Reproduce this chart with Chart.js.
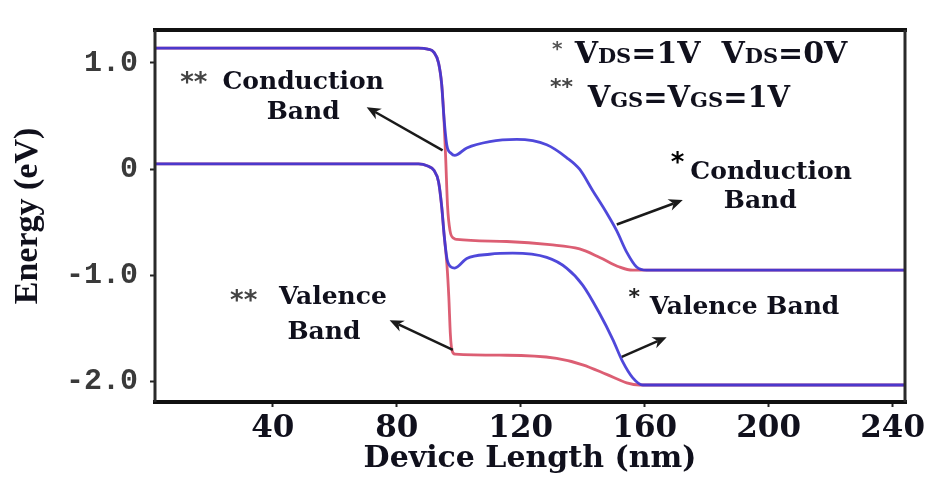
<!DOCTYPE html>
<html>
<head>
<meta charset="utf-8">
<script src="https://cdn.jsdelivr.net/npm/chart.js@4.4.1/dist/chart.umd.min.js"></script>
<style>
  html, body { margin: 0; padding: 0; background: #ffffff; }
</style>
</head>
<body>
<canvas id="bands" width="938" height="478"></canvas>
<script>
// Band edge profiles (x: nm, y: eV)
const cbBlueX = [2, 87, 90, 92, 93.5, 94.5, 95.2, 96.2, 97.5, 98.7, 102.6, 110, 118.7, 128.4, 134.8, 139, 143.2, 147.7, 151, 154.2, 157.4, 160.6, 244];
const cbBlueY = [1.14, 1.14, 1.13, 1.10, 1.00, 0.80, 0.50, 0.22, 0.15, 0.13, 0.20, 0.26, 0.28, 0.23, 0.11, 0.00, -0.20, -0.41, -0.58, -0.78, -0.92, -0.95, -0.95];

const cbRedX = [2, 87, 90, 92, 93.5, 94.5, 95.2, 95.8, 96.4, 97.2, 98.4, 99.4, 115.5, 129.4, 139, 145.5, 151.9, 156.1, 160, 244];
const cbRedY = [1.14, 1.14, 1.13, 1.10, 1.00, 0.80, 0.50, 0.10, -0.35, -0.58, -0.65, -0.66, -0.68, -0.71, -0.75, -0.83, -0.92, -0.95, -0.95, -0.95];

const vbBlueX = [2, 87, 90, 92, 93.5, 94.5, 95.3, 96.2, 97.5, 98.7, 102.6, 110, 117.4, 128.4, 134.8, 140, 145.5, 149.7, 152.9, 156.1, 159.4, 244];
const vbBlueY = [0.05, 0.05, 0.03, -0.01, -0.12, -0.35, -0.62, -0.84, -0.92, -0.93, -0.84, -0.80, -0.79, -0.83, -0.93, -1.09, -1.36, -1.60, -1.81, -1.96, -2.03, -2.03];

const vbRedX = [2, 87, 90, 92, 93.5, 94.5, 95.3, 96.2, 96.8, 97.3, 97.8, 98.8, 115.5, 131.6, 140, 147.7, 154.2, 158.4, 244];
const vbRedY = [0.05, 0.05, 0.03, -0.01, -0.12, -0.35, -0.62, -0.90, -1.20, -1.55, -1.70, -1.74, -1.75, -1.78, -1.84, -1.93, -2.01, -2.03, -2.03];

// Axis ticks
const xTickValues = [40, 80, 120, 160, 200, 240];
const yTickValues = [1.0, 0, -1.0, -2.0];
const yTickLabels = ['1.0', '0', '-1.0', '-2.0'];

const BLUE = 'rgba(60, 52, 214, 0.9)';
const RED = 'rgba(216, 76, 100, 0.9)';
const INK = '#10101c';
const SERIF = '"DejaVu Serif", "Liberation Serif", serif';

function pairs(xs, ys) {
  return xs.map((x, i) => ({ x: x, y: ys[i] }));
}

// Text notes placed in data coordinates (like annotation labels)
const notes = [
  { text: '**', x: 14.5, y: 0.80, size: 26, color: '#444', base: 'middle', sans: true },
  { text: 'Conduction', x: 49.8, y: 0.756, size: 25 },
  { text: 'Band', x: 49.8, y: 0.476, size: 25 },
  { text: '**', x: 30.6, y: -1.25, size: 26, color: '#444', base: 'middle', sans: true },
  { text: 'Valence', x: 59.4, y: -1.27, size: 25 },
  { text: 'Band', x: 56.5, y: -1.60, size: 25 },
  { text: '*', x: 170.6, y: 0.05, size: 26, color: '#000', base: 'middle', sans: true },
  { text: 'Conduction', x: 200.8, y: -0.093, size: 25 },
  { text: 'Band', x: 197.3, y: -0.364, size: 25 },
  { text: '*', x: 156.6, y: -1.21, size: 22, color: '#222', base: 'middle', sans: true },
  { text: 'Valence Band', x: 161.6, y: -1.358, size: 25, align: 'left' },
  { text: '*', x: 131.8, y: 1.12, size: 20, color: '#555', base: 'middle', sans: true },
  { text: '**', x: 133.2, y: 0.76, size: 22, color: '#444', base: 'middle', sans: true }
];

// Legend lines with small-cap subscripts: [text, size]
const legendRuns = [
  { x: 137.4, y: 1.0, runs: [['V', 30], ['DS', 21], ['=1V  V', 30], ['DS', 21], ['=0V', 30]] },
  { x: 141.6, y: 0.584, runs: [['V', 29], ['GS', 21], ['=V', 29], ['GS', 21], ['=1V', 29]] }
];

const arrows = [
  { from: [94.8, 0.178], to: [70.3, 0.584] },
  { from: [98.1, -1.70], to: [77.7, -1.42] },
  { from: [151.0, -0.52], to: [172.3, -0.29] },
  { from: [152.6, -1.765], to: [167.1, -1.58] }
];

function drawArrow(ctx, x0, y0, x1, y1) {
  const ang = Math.atan2(y1 - y0, x1 - x0);
  const head = 14, half = 6;
  ctx.beginPath();
  ctx.moveTo(x0, y0);
  ctx.lineTo(x1 - Math.cos(ang) * head * 0.7, y1 - Math.sin(ang) * head * 0.7);
  ctx.stroke();
  ctx.beginPath();
  ctx.moveTo(x1, y1);
  ctx.lineTo(x1 - head * Math.cos(ang) + half * Math.sin(ang), y1 - head * Math.sin(ang) - half * Math.cos(ang));
  ctx.lineTo(x1 - head * 0.7 * Math.cos(ang), y1 - head * 0.7 * Math.sin(ang));
  ctx.lineTo(x1 - head * Math.cos(ang) - half * Math.sin(ang), y1 - head * Math.sin(ang) + half * Math.cos(ang));
  ctx.closePath();
  ctx.fill();
}

const frameAndNotes = {
  id: 'frameAndNotes',
  afterDatasetsDraw(chart) {
    const { ctx, chartArea: a, scales: { x, y } } = chart;
    ctx.save();

    // plot frame
    ctx.strokeStyle = '#111';
    ctx.lineWidth = 4;
    ctx.beginPath();
    ctx.moveTo(a.left - 2, a.top); ctx.lineTo(a.right + 2, a.top);
    ctx.moveTo(a.left - 2, a.bottom); ctx.lineTo(a.right + 2, a.bottom);
    ctx.stroke();
    ctx.lineWidth = 3;
    ctx.strokeStyle = '#2a2a2a';
    ctx.beginPath();
    ctx.moveTo(a.left, a.top); ctx.lineTo(a.left, a.bottom);
    ctx.moveTo(a.right, a.top); ctx.lineTo(a.right, a.bottom);
    ctx.stroke();

    // arrows
    ctx.strokeStyle = '#1a1a1a';
    ctx.fillStyle = '#1a1a1a';
    ctx.lineWidth = 2.5;
    arrows.forEach(ar => {
      drawArrow(ctx,
        x.getPixelForValue(ar.from[0]), y.getPixelForValue(ar.from[1]),
        x.getPixelForValue(ar.to[0]), y.getPixelForValue(ar.to[1]));
    });

    // notes
    notes.forEach(n => {
      ctx.font = 'bold ' + n.size + 'px ' + (n.sans ? '"DejaVu Sans", sans-serif' : SERIF);
      ctx.fillStyle = n.color || INK;
      ctx.textAlign = n.align || 'center';
      ctx.textBaseline = n.base || 'alphabetic';
      ctx.fillText(n.text, x.getPixelForValue(n.x), y.getPixelForValue(n.y));
    });

    // legend text with subscripts
    ctx.textAlign = 'left';
    ctx.textBaseline = 'alphabetic';
    ctx.fillStyle = INK;
    legendRuns.forEach(line => {
      let px = x.getPixelForValue(line.x);
      const py = y.getPixelForValue(line.y);
      line.runs.forEach(([t, s]) => {
        ctx.font = 'bold ' + s + 'px ' + SERIF;
        ctx.fillText(t, px, py);
        px += ctx.measureText(t).width;
      });
    });

    ctx.restore();
  }
};

// first dataset is drawn on top, so the VDS=1V (blue) curves go first
new Chart(document.getElementById('bands'), {
  type: 'line',
  data: {
    datasets: [
      { label: 'CB VDS=1V', data: pairs(cbBlueX, cbBlueY), borderColor: BLUE },
      { label: 'VB VDS=1V', data: pairs(vbBlueX, vbBlueY), borderColor: BLUE },
      { label: 'CB VDS=0V', data: pairs(cbRedX, cbRedY), borderColor: RED },
      { label: 'VB VDS=0V', data: pairs(vbRedX, vbRedY), borderColor: RED }
    ]
  },
  options: {
    responsive: false,
    animation: false,
    devicePixelRatio: 1,
    layout: { padding: { top: 15, right: 33, left: 0, bottom: 0 } },
    elements: {
      line: { borderWidth: 2.8, cubicInterpolationMode: 'monotone', fill: false },
      point: { radius: 0 }
    },
    plugins: {
      legend: { display: false },
      tooltip: { enabled: false }
    },
    scales: {
      x: {
        type: 'linear',
        min: 2,
        max: 244,
        afterBuildTicks: scale => { scale.ticks = xTickValues.map(v => ({ value: v })); },
        afterFit: scale => { scale.height = 76; },
        border: { display: false },
        grid: { drawOnChartArea: false, drawTicks: true, tickLength: 5, tickWidth: 2, color: '#222' },
        ticks: {
          autoSkip: false,
          maxRotation: 0,
          padding: 3,
          color: INK,
          font: { family: SERIF, size: 31, weight: 'bold' }
        },
        title: {
          display: true,
          text: 'Device Length (nm)',
          color: INK,
          font: { family: SERIF, size: 30, weight: 'bold' },
          padding: { top: 0, bottom: 1 }
        }
      },
      y: {
        type: 'linear',
        min: -2.19,
        max: 1.31,
        afterBuildTicks: scale => { scale.ticks = yTickValues.map(v => ({ value: v })); },
        afterFit: scale => { scale.width = 155; },
        border: { display: false },
        grid: { drawOnChartArea: false, drawTicks: true, tickLength: 5, tickWidth: 2, color: '#222' },
        ticks: {
          autoSkip: false,
          padding: 12,
          color: '#3a3a3a',
          font: { family: '"Liberation Mono", monospace', size: 30, weight: 'bold' },
          callback: value => {
            const i = yTickValues.indexOf(value);
            return i >= 0 ? yTickLabels[i] : '';
          }
        },
        title: {
          display: true,
          text: 'Energy (eV)',
          color: INK,
          font: { family: '"Liberation Serif", serif', size: 34, weight: 'bold' },
          padding: { top: 8, bottom: 0 }
        }
      }
    }
  },
  plugins: [frameAndNotes]
});
</script>
</body>
</html>
